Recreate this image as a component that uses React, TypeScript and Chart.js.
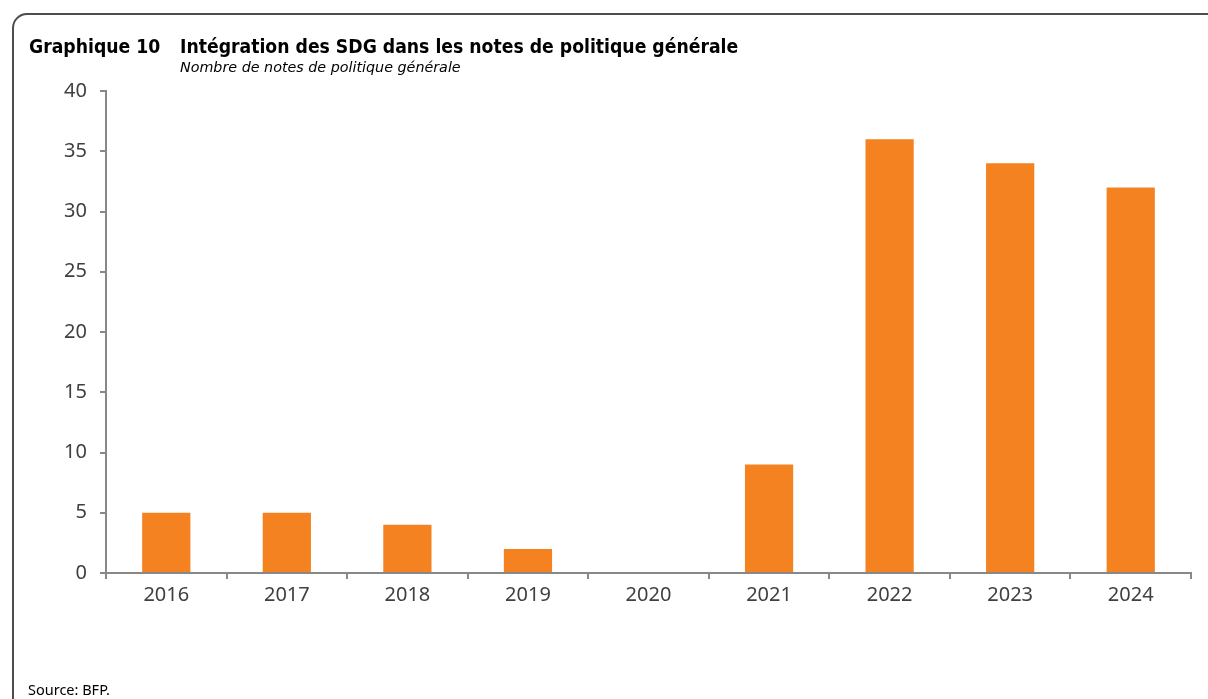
import React, { useEffect, useRef } from "react";
import { Chart, registerables } from "chart.js";

Chart.register(...registerables);

const categories = ["2016", "2017", "2018", "2019", "2020", "2021", "2022", "2023", "2024"];
const values = [5, 5, 4, 2, 0, 9, 36, 34, 32];
const yTicks = [0, 5, 10, 15, 20, 25, 30, 35, 40];

const titleNumber = "Graphique 10";
const titleText = "Intégration des SDG dans les notes de politique générale";
const subtitleText = "Nombre de notes de politique générale";
const sourceText = "Source: BFP.";

const AXIS = "#888888";
const LABEL = "#404040";
const BAR = "#F58220";

export default function App() {
  const ref = useRef<HTMLCanvasElement | null>(null);

  useEffect(() => {
    if (!ref.current) return;
    const chart = new Chart(ref.current, {
      type: "bar",
      data: {
        labels: categories,
        datasets: [
          {
            data: values,
            backgroundColor: BAR,
            borderWidth: 0,
            categoryPercentage: 1,
            barPercentage: 0.4,
          },
        ],
      },
      options: {
        animation: false,
        responsive: false,
        devicePixelRatio: 1,
        layout: { padding: { left: 0, top: 91, right: 17, bottom: 0 } },
        plugins: {
          legend: { display: false },
          title: { display: false },
          tooltip: { enabled: false },
        },
        scales: {
          x: {
            type: "category",
            offset: true,
            afterFit: (s: any) => {
              s.height = 126;
            },
            grid: {
              offset: true,
              drawOnChartArea: false,
              drawTicks: true,
              tickLength: 6,
              color: AXIS,
              lineWidth: 2,
            },
            border: { display: true, color: AXIS, width: 2 },
            ticks: {
              color: LABEL,
              padding: 4,
              font: { family: "'Noto Sans'", size: 20 },
              maxRotation: 0,
            },
          },
          y: {
            min: 0,
            max: 40,
            afterFit: (s: any) => {
              s.width = 106;
            },
            afterBuildTicks: (s: any) => {
              s.ticks = yTicks.map((v) => ({ value: v }));
            },
            grid: {
              drawOnChartArea: false,
              drawTicks: true,
              tickLength: 6,
              color: AXIS,
              lineWidth: 2,
            },
            border: { display: true, color: AXIS, width: 2 },
            ticks: {
              color: LABEL,
              padding: 13,
              font: { family: "'Noto Sans'", size: 20 },
            },
          },
        },
      },
    });
    return () => chart.destroy();
  }, []);

  return (
    <div
      style={{
        position: "absolute",
        left: 0,
        top: 0,
        width: 1208,
        height: 699,
        overflow: "hidden",
        background: "#ffffff",
      }}
    >
      <svg
        width={1208}
        height={699}
        style={{ position: "absolute", left: 0, top: 0 }}
      >
        <path
          d="M 13 705 L 13 28 A 14 14 0 0 1 27 14 L 1215 14"
          fill="none"
          stroke="#4d4d4d"
          strokeWidth={2}
        />
      </svg>
      <canvas
        ref={ref}
        width={1208}
        height={699}
        style={{ position: "absolute", left: 0, top: 0, width: 1208, height: 699 }}
      />
      <div
        style={{
          position: "absolute",
          left: 29,
          top: 37,
          fontFamily: "'DejaVu Sans Condensed', 'DejaVu Sans'",
          fontStretch: "condensed",
          fontWeight: "bold",
          fontSize: 19.2,
          lineHeight: "19px",
          color: "#000",
          whiteSpace: "nowrap",
        }}
      >
        {titleNumber}
      </div>
      <div
        style={{
          position: "absolute",
          left: 180,
          top: 37,
          fontFamily: "'DejaVu Sans Condensed', 'DejaVu Sans'",
          fontStretch: "condensed",
          fontWeight: "bold",
          fontSize: 19.2,
          lineHeight: "19px",
          color: "#000",
          whiteSpace: "nowrap",
        }}
      >
        {titleText}
      </div>
      <div
        style={{
          position: "absolute",
          left: 180,
          top: 60,
          fontFamily: "'DejaVu Sans'",
          fontStyle: "italic",
          fontSize: 14.3,
          lineHeight: "14px",
          color: "#000",
          whiteSpace: "nowrap",
        }}
      >
        {subtitleText}
      </div>
      <div
        style={{
          position: "absolute",
          left: 28,
          top: 682,
          fontFamily: "'Noto Sans'",
          fontSize: 14.5,
          lineHeight: "14px",
          color: "#000",
          whiteSpace: "nowrap",
        }}
      >
        {sourceText}
      </div>
    </div>
  );
}
